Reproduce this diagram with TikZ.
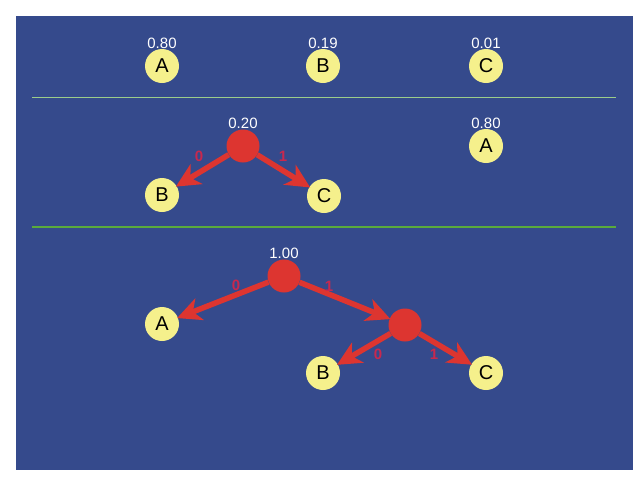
\documentclass[tikz,border=0pt]{standalone}
\usepackage{fontspec}
\setmainfont{Liberation Sans}
\usetikzlibrary{arrows.meta}
\definecolor{bgblue}{HTML}{354A8C}
\definecolor{leafyellow}{HTML}{F5F08C}
\definecolor{treered}{HTML}{DD3530}
\definecolor{lblred}{HTML}{C8284E}
\definecolor{sepgreen}{HTML}{5AAB3C}
\tikzset{
  leaf/.style={circle,fill=leafyellow,minimum size=34pt,inner sep=0pt,font=\fontsize{20}{20}\selectfont,text=black},
  inner/.style={circle,fill=treered,minimum size=33pt,inner sep=0pt},
  prob/.style={text=white,font=\fontsize{15}{15}\selectfont,inner sep=0pt},
  bit/.style={text=lblred,font=\bfseries\fontsize{15}{15}\selectfont,inner sep=0pt},
  edge/.style={draw=treered,line width=5.5pt,-{Stealth[length=24pt,width=23pt,inset=7pt]},shorten >=-1pt},
}
\begin{document}
\begin{tikzpicture}[x=1pt,y=-1pt]
\useasboundingbox (0,0) rectangle (640,480);
\fill[white] (0,0) rectangle (640,480);
\fill[bgblue] (16,16) rectangle (633,470);
\coordinate (s1a) at (32,97);
\coordinate (s1b) at (616,97);
\coordinate (s2a) at (32,227);
\coordinate (s2b) at (616,227);
\draw[sepgreen!60!white,line width=0.8pt] (s1a) -- (s1b);
\draw[sepgreen,line width=1.6pt] (s2a) -- (s2b);
% row 1
\node[leaf] (a1) at (162,66) {A};
\node[leaf] (b1) at (323,66) {B};
\node[leaf] (c1) at (486,66) {C};
\node[prob] (pa1) at (162,43) {0.80};
\node[prob] (pb1) at (323,43) {0.19};
\node[prob] (pc1) at (486,43) {0.01};
% row 2
\node[inner] (r2) at (243,146) {};
\node[prob] (pr2) at (243,123) {0.20};
\node[leaf] (b2) at (162,195) {B};
\node[leaf] (c2) at (324,196) {C};
\node[leaf] (a2) at (486,146) {A};
\node[prob] (pa2) at (486,123) {0.80};
\draw[edge] (r2) -- (b2);
\draw[edge] (r2) -- (c2);
\node[bit] (z2) at (199,156) {0};
\node[bit] (o2) at (283,156) {1};
% row 3
\node[inner] (r3) at (284,276) {};
\node[prob] (pr3) at (284,253) {1.00};
\node[inner] (n3) at (405,325) {};
\node[leaf] (a3) at (162,324) {A};
\node[leaf] (b3) at (323,373) {B};
\node[leaf] (c3) at (486,373) {C};
\draw[edge] (r3) -- (a3);
\draw[edge] (r3) -- (n3);
\draw[edge] (n3) -- (b3);
\draw[edge] (n3) -- (c3);
\node[bit] (z3) at (236,285) {0};
\node[bit] (o3) at (329,286) {1};
\node[bit] (z4) at (378,354) {0};
\node[bit] (o4) at (434,354) {1};
\end{tikzpicture}
\end{document}
